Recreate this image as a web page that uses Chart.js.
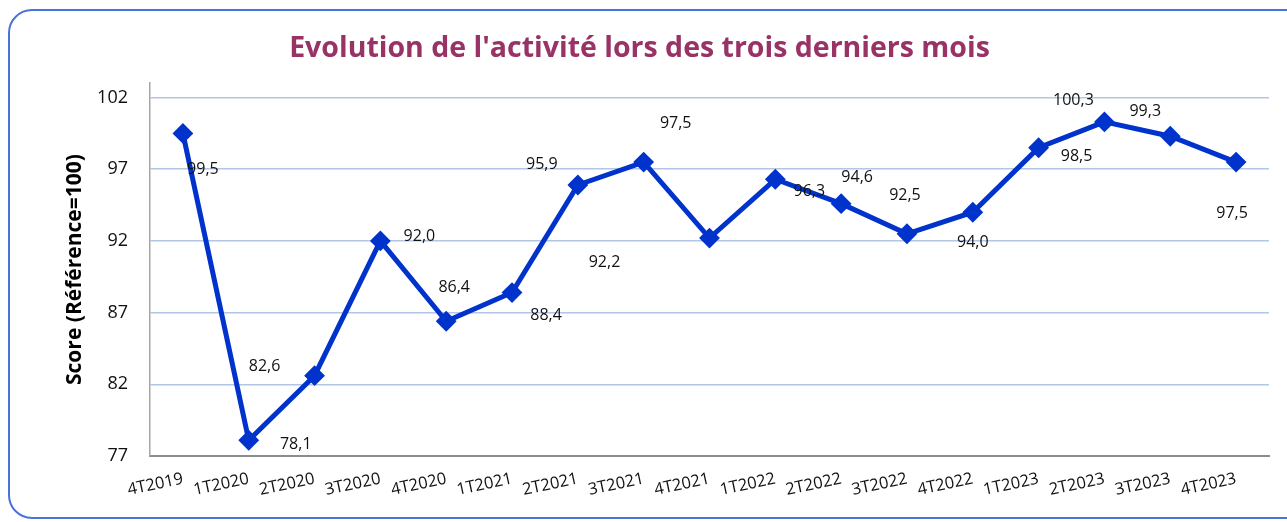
<!DOCTYPE html>
<html>
<head>
<meta charset="utf-8">
<script src="https://cdn.jsdelivr.net/npm/chart.js@4"></script>
<style>
    html, body { margin: 0; padding: 0; background: #fff; }
    body { width: 1287px; height: 522px; position: relative; overflow: hidden; }
    #frame {
        position: absolute; left: 8px; top: 9px; width: 1320px; height: 510px;
        border: 2px solid #4a72d8; border-radius: 24px; box-sizing: border-box;
    }
    #chart { position: absolute; left: 0; top: 0; }
</style>
</head>
<body>
<div id="frame"></div>
<canvas id="chart" width="1287" height="522"></canvas>
<script>
// quarters and activity score (reference = 100)
const quarters = ['4T2019', '1T2020', '2T2020', '3T2020', '4T2020', '1T2021', '2T2021', '3T2021', '4T2021',
                  '1T2022', '2T2022', '3T2022', '4T2022', '1T2023', '2T2023', '3T2023', '4T2023'];
const scores   = [99.5, 78.1, 82.6, 92.0, 86.4, 88.4, 95.9, 97.5, 92.2,
                  96.3, 94.6, 92.5, 94.0, 98.5, 100.3, 99.3, 97.5];
const yTicks   = [77, 82, 87, 92, 97, 102];

// where each value label sits, relative to its point (px)
const labelOffsets = [
    [20, 36], [47, 4], [-50, -9], [39, -4], [8, -34], [34, 23], [-36, -21], [32, -39], [-105, 24],
    [34, 12], [16, -26], [-2, -38], [0, 30], [38, 9], [-31, -21], [-25, -25], [-4, 51]
];

const LINE_BLUE = '#0033cc';
const FONT = '"Open Sans", Lato, sans-serif';

const valueLabels = {
    id: 'valueLabels',
    afterDatasetsDraw(chart) {
        const ctx = chart.ctx;
        const meta = chart.getDatasetMeta(0);
        ctx.save();
        ctx.font = '16px ' + FONT;
        ctx.fillStyle = '#111';
        ctx.textAlign = 'center';
        ctx.textBaseline = 'middle';
        meta.data.forEach((pt, i) => {
            const off = labelOffsets[i];
            const txt = scores[i].toFixed(1).replace('.', ',');
            ctx.fillText(txt, pt.x + off[0], pt.y + off[1]);
        });
        ctx.restore();
    }
};

const chart = new Chart(document.getElementById('chart').getContext('2d'), {
    type: 'line',
    data: {
        labels: quarters,
        datasets: [{
            data: scores,
            borderColor: LINE_BLUE,
            backgroundColor: LINE_BLUE,
            borderWidth: 5,
            pointStyle: 'rectRot',
            pointRadius: 9,
            pointBorderWidth: 2,
            pointBorderColor: LINE_BLUE,
            pointBackgroundColor: LINE_BLUE,
            tension: 0,
            clip: false,
        }]
    },
    options: {
        responsive: false,
        animation: false,
        layout: { padding: { left: 10, right: 18, top: 0, bottom: 10 } },
        plugins: {
            legend: { display: false },
            tooltip: { enabled: false },
            title: {
                display: true,
                text: "Evolution de l'activité lors des trois derniers mois",
                color: '#993366',
                font: { family: FONT, size: 28.5, weight: 'bold', lineHeight: 1.2 },
                padding: { top: 32, bottom: 17 },
            }
        },
        scales: {
            x: {
                offset: true,
                grid: { display: false, drawTicks: false },
                border: { display: true, color: '#8c8c8c', width: 2 },
                ticks: {
                    color: '#111',
                    font: { family: FONT, size: 16.5 },
                    minRotation: 12, maxRotation: 12,
                    autoSkip: false,
                    padding: 13,
                },
                afterFit: (s) => { s.height = 56; },
            },
            y: {
                min: 77, max: 103,
                afterBuildTicks: (s) => { s.ticks = yTicks.map(v => ({ value: v })); },
                grid: {
                    drawTicks: false,
                    color: (c) => c.tick && c.tick.value === 77 ? 'rgba(0,0,0,0)' : '#b4c6e7',
                    lineWidth: 1.5,
                },
                border: { display: true, color: '#a6a6a6', width: 1.5 },
                ticks: {
                    color: '#111',
                    font: { family: FONT, size: 18 },
                    padding: 22,
                },
                title: {
                    display: true,
                    text: 'Score (Référence=100)',
                    color: '#000',
                    font: { family: FONT, size: 21, weight: 'bold', lineHeight: 1.2 },
                    padding: { top: 52, bottom: 0 },
                },
                afterFit: (s) => { s.width = 140; },
            }
        }
    },
    plugins: [valueLabels]
});
</script>
</body>
</html>
